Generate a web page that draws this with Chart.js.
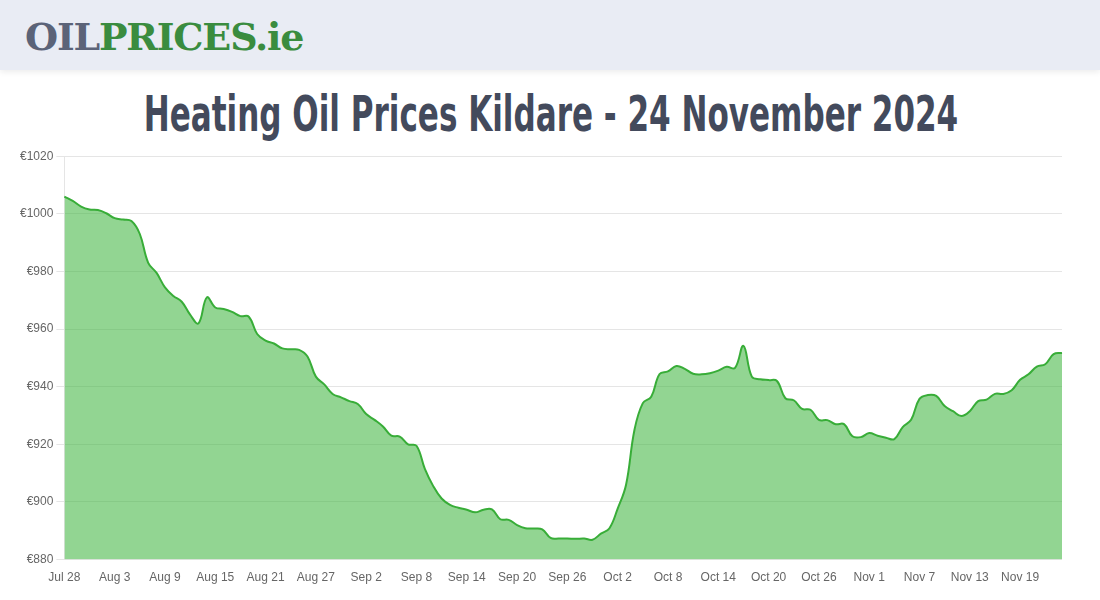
<!DOCTYPE html>
<html>
<head>
<meta charset="utf-8">
<script src="https://cdn.jsdelivr.net/npm/chart.js@4"></script>
<style>
  html, body { margin: 0; padding: 0; background: #fff; width: 1100px; height: 600px; overflow: hidden; }
  .top { height: 70px; background: #e9ecf4; box-shadow: 0 2px 6px rgba(0,0,0,0.08); position: relative; }
  .logo { position: absolute; left: 25px; top: 15px; font-family: "DejaVu Serif", serif; font-weight: bold; font-size: 38px; letter-spacing: -1.2px; line-height: 44px; }
  .logo .oil { color: #5b6378; }
  .logo .pr { color: #3a8c3f; }
  h1 { margin: 0; position: absolute; top: 86px; left: -199px; width: 1500px; text-align: center; font-family: "DejaVu Sans Condensed", "DejaVu Sans", sans-serif; font-weight: bold; font-size: 50px; line-height: 56px; color: #434a5c; transform: scaleX(0.69); transform-origin: 750px 0; white-space: nowrap; }
  .wrap { position: absolute; left: 17px; top: 146px; width: 1053px; height: 442px; }
</style>
</head>
<body>
<div class="top"><div class="logo"><span class="oil">OIL</span><span class="pr">PRICES.ie</span></div></div>
<h1>Heating Oil Prices Kildare - 24 November 2024</h1>
<div class="wrap"><canvas id="c"></canvas></div>
<script>
// day labels, Jul 28 -> Nov 24
const days = [
  "Jul 28","Jul 29","Jul 30","Jul 31",
  "Aug 1","Aug 2","Aug 3","Aug 4","Aug 5","Aug 6","Aug 7","Aug 8","Aug 9","Aug 10","Aug 11","Aug 12","Aug 13","Aug 14","Aug 15","Aug 16",
  "Aug 17","Aug 18","Aug 19","Aug 20","Aug 21","Aug 22","Aug 23","Aug 24","Aug 25","Aug 26","Aug 27","Aug 28","Aug 29","Aug 30","Aug 31",
  "Sep 1","Sep 2","Sep 3","Sep 4","Sep 5","Sep 6","Sep 7","Sep 8","Sep 9","Sep 10","Sep 11","Sep 12","Sep 13","Sep 14","Sep 15",
  "Sep 16","Sep 17","Sep 18","Sep 19","Sep 20","Sep 21","Sep 22","Sep 23","Sep 24","Sep 25","Sep 26","Sep 27","Sep 28","Sep 29","Sep 30",
  "Oct 1","Oct 2","Oct 3","Oct 4","Oct 5","Oct 6","Oct 7","Oct 8","Oct 9","Oct 10","Oct 11","Oct 12","Oct 13","Oct 14","Oct 15","Oct 16",
  "Oct 17","Oct 18","Oct 19","Oct 20","Oct 21","Oct 22","Oct 23","Oct 24","Oct 25","Oct 26","Oct 27","Oct 28","Oct 29","Oct 30","Oct 31",
  "Nov 1","Nov 2","Nov 3","Nov 4","Nov 5","Nov 6","Nov 7","Nov 8","Nov 9","Nov 10","Nov 11","Nov 12","Nov 13","Nov 14","Nov 15","Nov 16",
  "Nov 17","Nov 18","Nov 19","Nov 20","Nov 21","Nov 22","Nov 23","Nov 24"
];

// average price per 1000L (€)
const prices = [
  1006, 1004.5, 1002.5, 1001.5, 1001.3, 1000.2, 998.5, 998, 997.5, 993,
  983, 979.5, 974.5, 971.5, 969.5, 965, 962, 971, 967.5, 967,
  966, 964.5, 964.3, 958.3, 956, 955, 953.3, 953, 952.8, 950.5,
  943.5, 940.8, 937.5, 936.3, 935, 934, 930.5, 928.5, 926.2, 923,
  922.7, 920, 919.5, 911.5, 905.5, 901.2, 899, 898, 897.3, 896.4,
  897.3, 897.4, 894, 893.8, 892, 890.9, 890.8, 890.5, 887.5, 887.3,
  887.3, 887.2, 887.3, 886.9, 889, 890.8, 897.7, 906, 925, 934.3,
  936.5, 944.4, 945.3, 947.2, 946.2, 944.5, 944.3, 944.7, 945.6, 946.9,
  946.5, 954.2, 943.5, 942.6, 942.3, 942, 936, 935.3, 932.3, 932,
  928.5, 928.4, 927, 927, 922.8, 922.5, 923.9, 923, 922.3, 921.8,
  926, 928.5, 935.8, 937.1, 936.8, 933.3, 931.5, 929.8, 931.5, 935,
  935.5, 937.5, 937.5, 938.8, 942.4, 944.3, 947, 947.8, 951.3, 951.7
];

const yMin = 880, yMax = 1020, yStep = 20;
const tickEvery = 6;

const tickFont = { size: 12, family: "Liberation Sans, Arial, sans-serif" };

new Chart(document.getElementById("c"), {
  type: "line",
  data: {
    labels: days,
    datasets: [{
      data: prices,
      borderColor: "#38ad38", borderWidth: 2,
      backgroundColor: "rgba(60,180,60,0.56)",
      fill: "origin", tension: 0.4, pointRadius: 0,
    }],
  },
  options: {
    responsive: true, maintainAspectRatio: false, animation: false,
    plugins: { legend: { display: false }, tooltip: { enabled: false } },
    layout: { padding: { right: 8 } },
    scales: {
      x: {
        grid: { display: false },
        border: { display: false },
        ticks: {
          color: "#666", font: tickFont, autoSkip: false, maxRotation: 0,
          callback: (v, i) => i % tickEvery === 0 ? days[i] : "",
        },
      },
      y: {
        min: yMin, max: yMax,
        grid: { color: "rgba(0,0,0,0.1)" },
        border: { color: "rgba(0,0,0,0.1)" },
        ticks: { color: "#666", font: tickFont, stepSize: yStep, callback: v => "€" + v },
      },
    },
  },
});
</script>
</body>
</html>
